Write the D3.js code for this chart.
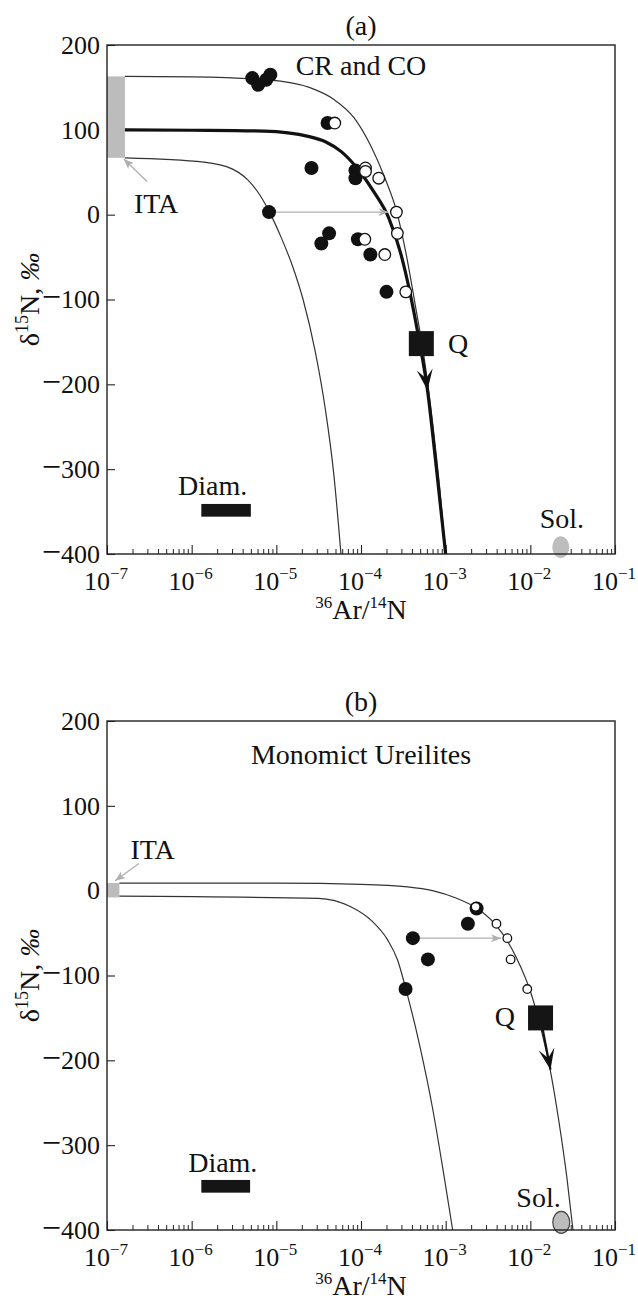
<!DOCTYPE html>
<html>
<head>
<meta charset="utf-8">
<script src="https://cdn.jsdelivr.net/npm/d3@7"></script>
<style>
  body { margin: 0; background: #fff; }
  text { font-family: "Liberation Serif", "Times New Roman", serif; fill: #111; }
</style>
</head>
<body>
<div class="graph"></div>
<script>
/*---------- DATA ----------*/

// axes
const xTicks = [1e-7, 1e-6, 1e-5, 1e-4, 1e-3, 1e-2, 1e-1];
const xExp = ["\u22127", "\u22126", "\u22125", "\u22124", "\u22123", "\u22122", "\u22121"];
const yTicks = [200, 100, 0, -100, -200, -300, -400];

// panel (a) CR and CO : mixing curves [Ar/N, d15N]
const aThick = [[1.63e-7, 100], [1e-6, 99.5], [7.2e-6, 98.5], [2.45e-5, 92], [3.8e-5, 86], [5.9e-5, 74],
  [9.3e-5, 53], [1.44e-4, 26], [2.13e-4, -4], [2.95e-4, -46], [3.9e-4, -98], [4.9e-4, -150],
  [6.1e-4, -207], [7.6e-4, -290], [1e-3, -400]];
const aUpper = [[1.63e-7, 163], [1e-6, 162.5], [8e-6, 159], [2.45e-5, 150], [4.75e-5, 136], [8.3e-5, 114],
  [1.29e-4, 82], [1.9e-4, 44], [2.65e-4, 3], [3.5e-4, -52], [4.4e-4, -108], [5.5e-4, -165],
  [7e-4, -245], [8.5e-4, -322], [1e-3, -400]];
const aLower = [[1.63e-7, 67], [1.4e-6, 62], [3e-6, 54], [4.6e-6, 41], [6.5e-6, 22], [8.3e-6, 3],
  [1.12e-5, -25], [1.57e-5, -62], [2.07e-5, -100], [2.89e-5, -162], [3.8e-5, -230],
  [4.76e-5, -305], [5.8e-5, -400]];
const aFilled = [[5.2e-6, 161], [6.1e-6, 153], [7.6e-6, 159], [8.5e-6, 165], [4.03e-5, 108], [2.6e-5, 55],
  [8.6e-5, 52], [8.6e-5, 43], [8.2e-6, 3], [4.2e-5, -22], [3.4e-5, -34], [9.2e-5, -29],
  [1.29e-4, -47], [2.0e-4, -91]];
const aOpen = [[4.9e-5, 108], [1.13e-4, 55], [1.13e-4, 51], [1.62e-4, 43], [2.62e-4, 3], [2.69e-4, -22],
  [1.11e-4, -29], [1.91e-4, -47], [3.38e-4, -91]];
const aShift = [[8.2e-6, 3], [2.62e-4, 3]];
const aIta = [[1e-7, 67], [1.63e-7, 163]];
const aItaArrow = [[2.97e-7, 39], [1.58e-7, 65.5]];
const aQ = [5.16e-4, -152];
const aQTip = [6.1e-4, -207];
const aDiam = [[1.3e-6, -356], [5.0e-6, -341]];
const aSol = [2.29e-2, -392];

// panel (b) Monomict Ureilites
const bUpper = [[1.4e-7, 9], [1e-5, 8.8], [1e-4, 7.5], [3.57e-4, 4.5], [7e-4, 0], [1.35e-3, -9],
  [2.36e-3, -21], [3.88e-3, -40], [5.4e-3, -60], [6.76e-3, -78], [1.05e-2, -125], [1.39e-2, -170],
  [1.73e-2, -213], [2.16e-2, -270], [2.7e-2, -338], [3.19e-2, -400]];
const bLower = [[1.4e-7, -6.5], [3.12e-5, -9], [7.57e-5, -19], [1.32e-4, -35], [2.06e-4, -58],
  [2.71e-4, -82], [3.39e-4, -116], [5e-4, -185], [6.96e-4, -255], [9.7e-4, -340], [1.21e-3, -400]];
const bFilled = [[2.32e-3, -21], [1.83e-3, -39], [4.1e-4, -56], [6.17e-4, -81], [3.36e-4, -116]];
const bOpen = [[2.26e-3, -19], [3.98e-3, -39], [5.35e-3, -56], [5.85e-3, -81], [9.2e-3, -116]];
const bShift = [[4.1e-4, -56], [5.35e-3, -56]];
const bIta = [[1e-7, -8], [1.4e-7, 9]];
const bItaArrow = [[2.38e-7, 32], [1.25e-7, 11.7]];
const bQ = [1.32e-2, -150];
const bQTip = [1.73e-2, -211];
const bDiam = [[1.3e-6, -356], [4.9e-6, -341]];
const bSol = [2.32e-2, -391];

/*---------- D3 STUFF ----------*/

const SIZE = {X: 638, Y: 1301};
const DIM = {WIDTH: 508, HEIGHT: 509};

const svg = d3.select(".graph").append("svg")
    .attr("width", SIZE.X)
    .attr("height", SIZE.Y)
    .style("display", "block");

svg.append("rect").attr("width", SIZE.X).attr("height", SIZE.Y).attr("fill", "#fff");

// gray arrow head
svg.append("defs").append("marker")
    .attr("id", "garrow")
    .attr("viewBox", "0 0 10 8")
    .attr("refX", 10).attr("refY", 4)
    .attr("markerWidth", 10).attr("markerHeight", 8)
    .attr("markerUnits", "userSpaceOnUse")
    .attr("orient", "auto")
    .append("path")
    .attr("d", "M0,0 L10,4 L0,8 L2.5,4 Z")
    .attr("fill", "#b0b0b0");

const panels = [
  {left: 107, top: 45, title: "(a)", name: "CR and CO", nameY: 176,
   thick: aThick, curves: [aUpper, aLower], filled: aFilled, open: aOpen, openR: 5.8,
   shift: aShift, ita: aIta, itaArrow: aItaArrow, itaLabel: [3.8e-7, 13],
   q: aQ, qTip: aQTip, qLabel: [1.4e-3, -152], shaft: false,
   diam: aDiam, diamLabel: [1.77e-6, -319], sol: aSol, solLabel: [2.36e-2, -358], solStroke: "none"},
  {left: 107, top: 721, title: "(b)", name: "Monomict Ureilites", nameY: 160,
   thick: null, curves: [bUpper, bLower], filled: bFilled, open: bOpen, openR: 4.3,
   shift: bShift, ita: bIta, itaArrow: bItaArrow, itaLabel: [3.46e-7, 48],
   q: bQ, qTip: bQTip, qLabel: [5.0e-3, -148], shaft: true,
   diam: bDiam, diamLabel: [2.33e-6, -321], sol: bSol, solLabel: [1.25e-2, -362], solStroke: "#444"}
];

panels.forEach(drawPanel);

function drawPanel(p) {
  const graph = svg.append("g")
      .attr("transform", `translate(${p.left}, ${p.top})`);

  const x = d3.scaleLog().domain([1e-7, 1e-1]).range([0, DIM.WIDTH]);
  const y = d3.scaleLinear().domain([-400, 200]).range([DIM.HEIGHT, 0]);

  // minor + major x ticks (inward)
  const minor = [];
  xTicks.slice(0, -1).forEach(t => { for (let k = 2; k <= 9; k++) minor.push(t * k); });

  graph.append("g")
      .attr("transform", `translate(0, ${DIM.HEIGHT})`)
      .call(d3.axisBottom(x).tickValues(minor).tickSize(-5).tickFormat(""))
      .call(g => g.select(".domain").remove())
      .selectAll("line").attr("stroke", "#222").attr("stroke-width", 1);

  graph.append("g")
      .attr("transform", `translate(0, ${DIM.HEIGHT})`)
      .call(d3.axisBottom(x).tickValues(xTicks).tickSize(-9).tickFormat(""))
      .call(g => g.select(".domain").remove())
      .selectAll("line").attr("stroke", "#222").attr("stroke-width", 1.1);

  // x tick labels 10^n
  const xl = graph.append("g").selectAll("text")
      .data(xTicks)
      .enter().append("text")
      .attr("x", d => x(d) - 1)
      .attr("y", DIM.HEIGHT + 36)
      .attr("text-anchor", "middle")
      .attr("font-size", 26);
  xl.append("tspan").text("10");
  xl.append("tspan").attr("dy", -11).attr("font-size", 17).text((d, i) => xExp[i]);

  // y axis
  const yAxis = graph.append("g")
      .call(d3.axisLeft(y).tickValues(yTicks).tickSize(-8).tickPadding(7));
  yAxis.select(".domain").remove();
  yAxis.selectAll("line").attr("stroke", "#222").attr("stroke-width", 1.1);
  yAxis.selectAll("text")
      .attr("font-size", 26)
      .attr("font-family", "Liberation Serif, Times New Roman, serif")
      .attr("fill", "#111")
      .each(function(d) {
        if (d < 0) {
          const t = d3.select(this).text("");
          t.append("tspan").attr("font-size", 34).text("\u2212");
          t.append("tspan").text(Math.abs(d));
        }
      });

  // axis titles
  const xt = graph.append("text")
      .attr("x", DIM.WIDTH / 2)
      .attr("y", DIM.HEIGHT + 65)
      .attr("text-anchor", "middle")
      .attr("font-size", 28);
  xt.append("tspan").attr("font-size", 17).attr("dy", -11).text("36");
  xt.append("tspan").attr("dy", 11).text("Ar/");
  xt.append("tspan").attr("font-size", 17).attr("dy", -11).text("14");
  xt.append("tspan").attr("dy", 11).text("N");

  const yt = graph.append("text")
      .attr("transform", `translate(-68, ${DIM.HEIGHT / 2}) rotate(-90)`)
      .attr("text-anchor", "middle")
      .attr("font-size", 28);
  yt.append("tspan").text("\u03b4");
  yt.append("tspan").attr("font-size", 18).attr("dy", -11).text("15");
  yt.append("tspan").attr("dy", 11).text("N, ");
  yt.append("tspan").attr("font-style", "italic").text("\u2030");

  // panel title and name
  graph.append("text")
      .attr("x", DIM.WIDTH / 2)
      .attr("y", -20)
      .attr("text-anchor", "middle")
      .attr("dominant-baseline", "central")
      .attr("font-size", 28)
      .text(p.title);

  graph.append("text")
      .attr("x", DIM.WIDTH / 2)
      .attr("y", y(p.nameY))
      .attr("text-anchor", "middle")
      .attr("dominant-baseline", "central")
      .attr("font-size", 28)
      .text(p.name);

  // ITA box
  graph.append("rect")
      .attr("x", x(p.ita[0][0]))
      .attr("y", y(p.ita[1][1]))
      .attr("width", x(p.ita[1][0]) - x(p.ita[0][0]))
      .attr("height", y(p.ita[0][1]) - y(p.ita[1][1]))
      .attr("fill", "#bcbcbc");

  // Diam. box
  graph.append("rect")
      .attr("x", x(p.diam[0][0]))
      .attr("y", y(p.diam[1][1]))
      .attr("width", x(p.diam[1][0]) - x(p.diam[0][0]))
      .attr("height", y(p.diam[0][1]) - y(p.diam[1][1]))
      .attr("fill", "#151515");

  // Sol.
  graph.append("ellipse")
      .attr("cx", x(p.sol[0]))
      .attr("cy", y(p.sol[1]))
      .attr("rx", 8.5).attr("ry", 11)
      .attr("fill", "#bdbdbd")
      .attr("stroke", p.solStroke)
      .attr("stroke-width", 1.2);

  // mixing curves
  const line = d3.line()
      .x(d => x(d[0]))
      .y(d => y(d[1]))
      .curve(d3.curveMonotoneX);

  p.curves.forEach(c => {
    graph.append("path")
        .attr("d", line(c))
        .attr("fill", "none")
        .attr("stroke", "#333")
        .attr("stroke-width", 1.2);
  });
  if (p.thick) {
    graph.append("path")
        .attr("d", line(p.thick))
        .attr("fill", "none")
        .attr("stroke", "#111")
        .attr("stroke-width", 3.2);
  }

  // gray arrows
  const sx0 = x(p.shift[0][0]), sx1 = x(p.shift[1][0]) - p.openR - 2;
  graph.append("line")
      .attr("x1", sx0).attr("y1", y(p.shift[0][1]))
      .attr("x2", sx1).attr("y2", y(p.shift[1][1]))
      .attr("stroke", "#b0b0b0").attr("stroke-width", 1.4)
      .attr("marker-end", "url(#garrow)");

  graph.append("line")
      .attr("x1", x(p.itaArrow[0][0])).attr("y1", y(p.itaArrow[0][1]))
      .attr("x2", x(p.itaArrow[1][0])).attr("y2", y(p.itaArrow[1][1]))
      .attr("stroke", "#b0b0b0").attr("stroke-width", 1.4)
      .attr("marker-end", "url(#garrow)");

  // points
  graph.append("g").selectAll("circle")
      .data(p.filled)
      .enter().append("circle")
      .attr("cx", d => x(d[0]))
      .attr("cy", d => y(d[1]))
      .attr("r", 7)
      .attr("fill", "#111");

  graph.append("g").selectAll("circle")
      .data(p.open)
      .enter().append("circle")
      .attr("cx", d => x(d[0]))
      .attr("cy", d => y(d[1]))
      .attr("r", p.openR)
      .attr("fill", "#fff")
      .attr("stroke", "#111")
      .attr("stroke-width", 1.3);

  // Q and its arrow
  const qx = x(p.q[0]), qy = y(p.q[1]);
  const tx = x(p.qTip[0]), ty = y(p.qTip[1]);
  if (p.shaft) {
    graph.append("line")
        .attr("x1", qx).attr("y1", qy)
        .attr("x2", tx).attr("y2", ty)
        .attr("stroke", "#111").attr("stroke-width", 2.2);
  }
  graph.append("rect")
      .attr("x", qx - 12.5).attr("y", qy - 12.5)
      .attr("width", 25).attr("height", 25)
      .attr("fill", "#151515");
  const ang = Math.atan2(ty - qy, tx - qx) * 180 / Math.PI - 90;
  graph.append("path")
      .attr("transform", `translate(${tx}, ${ty}) rotate(${ang})`)
      .attr("d", "M0,0 L-8,-21 L0,-12 L8,-21 Z")
      .attr("fill", "#111");

  // labels
  const labels = [
    {pos: p.qLabel, text: "Q"},
    {pos: p.diamLabel, text: "Diam."},
    {pos: p.solLabel, text: "Sol."},
    {pos: p.itaLabel, text: "ITA"}
  ];
  graph.append("g").selectAll("text")
      .data(labels)
      .enter().append("text")
      .attr("x", d => x(d.pos[0]))
      .attr("y", d => y(d.pos[1]))
      .attr("text-anchor", "middle")
      .attr("dominant-baseline", "central")
      .attr("font-size", 28)
      .text(d => d.text);

  // frame
  graph.append("rect")
      .attr("width", DIM.WIDTH)
      .attr("height", DIM.HEIGHT)
      .attr("fill", "none")
      .attr("stroke", "#222")
      .attr("stroke-width", 1.4);
}
</script>
</body>
</html>
